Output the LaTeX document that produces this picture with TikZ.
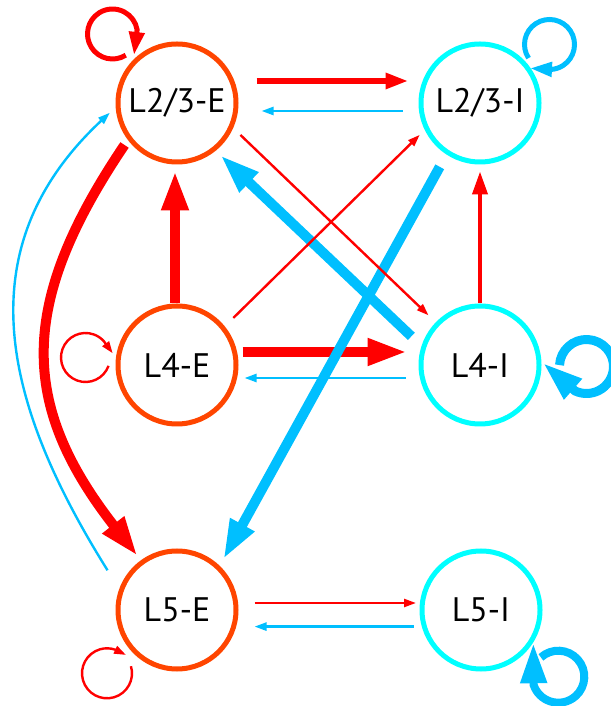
\documentclass[tikz,border=0pt]{standalone}
\usepackage{fontspec}
\usepackage{tikz}
\usetikzlibrary{arrows.meta}
\newfontfamily\popfont{PT Sans}
\definecolor{excpop}{RGB}{255,69,0}
\definecolor{inhpop}{RGB}{0,255,255}
\definecolor{excsyn}{RGB}{255,0,0}
\definecolor{inhsyn}{RGB}{0,191,255}

\begin{document}
\begin{tikzpicture}[x=0.5pt,y=0.5pt,
    pop/.style={circle,line width=2.5pt,minimum size=59pt,inner sep=0pt,
        font=\popfont\fontsize{17}{20}\selectfont},
    epop/.style={pop,draw=excpop},
    ipop/.style={pop,draw=inhpop},
    exc/.style={draw=excsyn},
    inh/.style={draw=inhsyn},
    weak/.style={line width=1.2pt,-{Triangle[length=6pt,width=4pt]}},
    medium/.style={line width=2.5pt,-{Triangle[length=11.5pt,width=7.5pt]}},
    strong/.style={line width=5pt,-{Triangle[length=20pt,width=12.5pt]}}]
\useasboundingbox (0,0) rectangle (610,706);

    % populations
    \node[epop] (L23E) at (177,603) {L2/3-E};
    \node[ipop] (L23I) at (480,603) {L2/3-I};
    \node[epop] (L4E)  at (177,341) {L4-E};
    \node[ipop] (L4I)  at (480,341) {L4-I};
    \node[epop] (L5E)  at (177,96)  {L5-E};
    \node[ipop] (L5I)  at (481,96)  {L5-I};

    % strong projections
    \draw[exc,strong,shorten >=3pt] ([xshift=-1pt]L4E.north) -- ([xshift=-1pt]L23E.south);
    \draw[exc,strong,shorten <=2pt,shorten >=5.5pt] ([yshift=6.5pt]L4E.east) -- ([yshift=6.5pt]L4I.west);
    \draw[exc,strong,shorten <=3pt,shorten >=2.5pt] (L23E.217) to[out=236,in=128,looseness=1.2] (L5E.126);
    \draw[inh,strong,shorten <=7pt,shorten >=3pt] (L4I.162) -- (L23E.-51);
    \draw[inh,strong,shorten <=7pt,shorten >=3.5pt] (L23I.237) -- (L5E.46);

    % weak and medium projections
    \draw[exc,medium,line width=3pt,shorten <=9pt,shorten >=5pt] ([yshift=11pt]L23E.east) -- ([yshift=11pt]L23I.west);
    \draw[inh,weak,shorten <=8pt,shorten >=11.5pt] ([yshift=-4pt]L23I.west) -- ([yshift=-4pt]L23E.east);
    \draw[exc,weak,shorten <=5pt,shorten >=5pt] (L23E.-24) -- (L4I.136);
    \draw[exc,weak,shorten <=6pt,shorten >=3.5pt] (L4E.39) -- (L23I.206);
    \draw[exc,medium,line width=2pt,shorten >=3.5pt] (L4I.north) -- (L23I.south);
    \draw[inh,weak,shorten <=6.5pt,shorten >=3pt] ([yshift=-6.5pt]L4I.west) -- ([yshift=-6.5pt]L4E.east);
    \draw[inh,weak,shorten <=11pt,shorten >=4pt] (L5E.160) to[out=122,in=223,looseness=1.12] (L23E.184);
    \draw[exc,weak,shorten <=8pt,shorten >=1.75pt] ([yshift=3.5pt]L5E.east) -- ([yshift=3.5pt]L5I.west);
    \draw[inh,weak,shorten <=3pt,shorten >=8pt] ([yshift=-8.3pt]L5I.west) -- ([yshift=-8.3pt]L5E.east);

    % recurrent loops
    \draw[exc,medium] ([shift={(-64.5,69)}]L23E.center) ++(-58:25)
        arc[start angle=-58,end angle=-350,radius=25] -- ++(-3.1,-25.3);
    \draw[inh,medium,-{Triangle[length=11pt,width=7pt]}] ([shift={(69.5,58.5)}]L23I.center) ++(213:25)
        arc[start angle=213,end angle=-85,radius=25] -- ++(-21.7,1.1);
    \draw[exc,weak] ([shift={(-91.5,7.5)}]L4E.center) ++(-20:24.5)
        arc[start angle=-20,end angle=-318.4,radius=24.5] -- ++(8.9,-12.1);
    \draw[inh,strong,line width=4.5pt] ([shift={(106.5,-1.5)}]L4I.center) ++(177:27)
        arc[start angle=177,end angle=-115,radius=27] -- ++(-32.1,28);
    \draw[exc,weak] ([shift={(-70,-63.3)}]L5E.center) ++(16.5:25)
        arc[start angle=16.5,end angle=-289,radius=25] -- ++(10.9,-5.3);
    \draw[inh,strong,line width=4pt] ([shift={(77.3,-66.7)}]L5I.center) ++(132:26)
        arc[start angle=132,end angle=-161,radius=26] -- ++(-0.4,41.9);

\end{tikzpicture}
\end{document}
